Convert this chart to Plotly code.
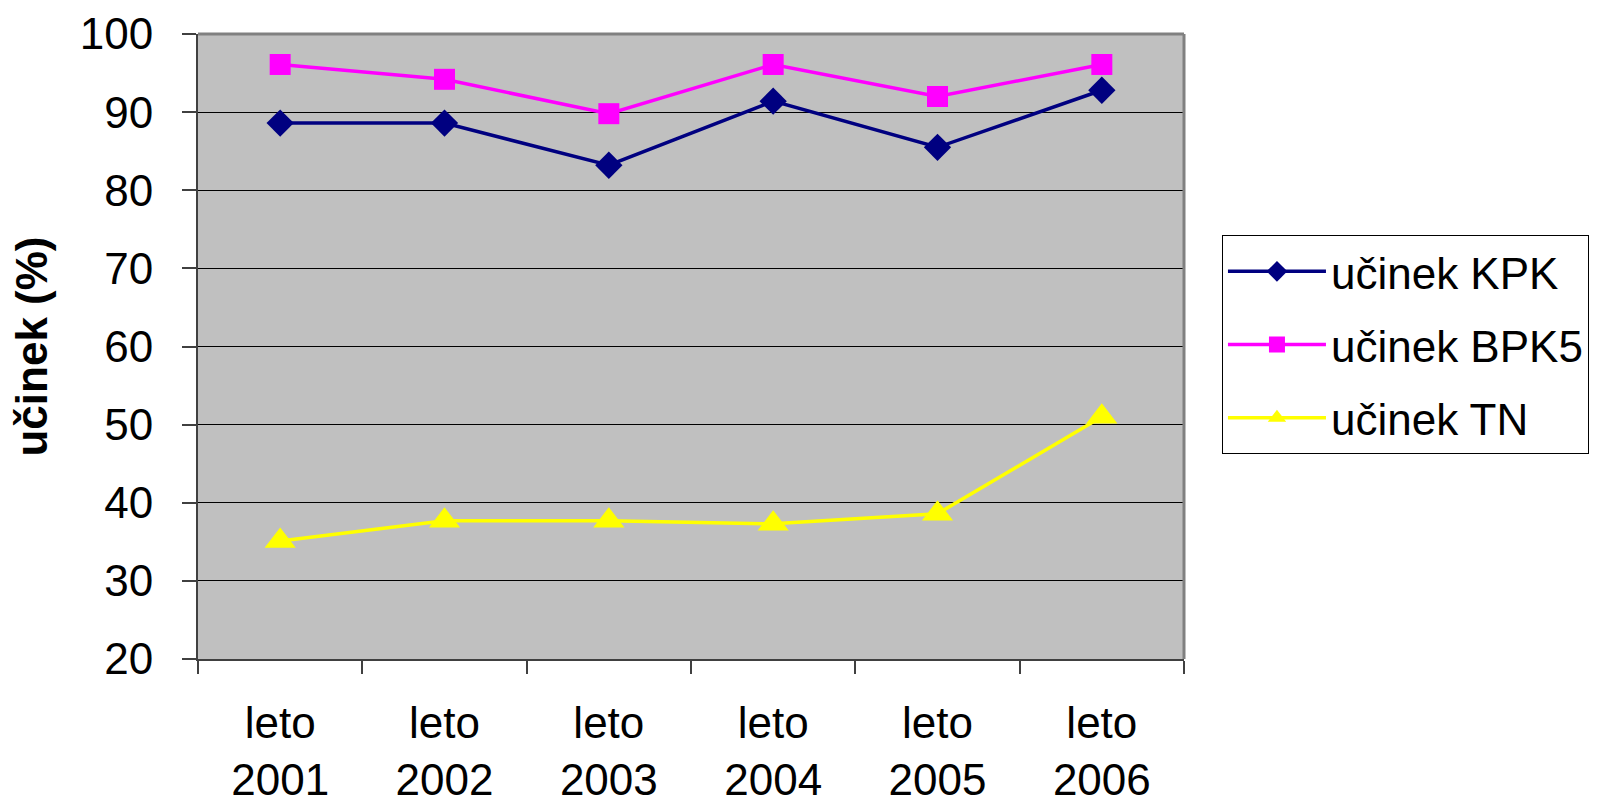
import plotly.graph_objects as go

categories = ["leto<br>2001", "leto<br>2002", "leto<br>2003", "leto<br>2004", "leto<br>2005", "leto<br>2006"]
kpk = [88.6, 88.6, 83.2, 91.4, 85.5, 92.8]
bpk5 = [96.1, 94.2, 89.8, 96.1, 92.0, 96.1]
tn = [35.1, 37.7, 37.7, 37.3, 38.6, 51.0]
names = ["učinek KPK", "učinek BPK5", "učinek TN"]
y_ticks = [20, 30, 40, 50, 60, 70, 80, 90, 100]

FONT = "Liberation Sans, Arial, sans-serif"

fig = go.Figure()
fig.add_trace(go.Scatter(x=categories, y=kpk, name=names[0], mode="lines+markers",
                         legendgroup="a",
                         line=dict(color="#000080", width=3.5),
                         marker=dict(symbol="diamond", size=21, color="#000080")))
fig.add_trace(go.Scatter(x=categories, y=bpk5, name=names[1], mode="lines+markers",
                         legendgroup="b",
                         line=dict(color="#FF00FF", width=3.5),
                         marker=dict(symbol="square", size=21, color="#FF00FF")))
fig.add_trace(go.Scatter(x=categories, y=tn, name=names[2], mode="lines+markers",
                         legendgroup="c",
                         line=dict(color="#FFFF00", width=3.5),
                         marker=dict(symbol="triangle-up", size=27, color="#FFFF00")))

fig.update_layout(
    width=1622, height=805,
    margin=dict(l=198, r=438, t=34, b=146),
    paper_bgcolor="white",
    plot_bgcolor="#C0C0C0",
    font=dict(family=FONT, size=44, color="black"),
    showlegend=True,
    legend=dict(x=1.0385, y=0.678, xanchor="left", yanchor="top",
                bordercolor="black", borderwidth=1, bgcolor="white",
                font=dict(family=FONT, size=44), itemwidth=98,
                tracegroupgap=13),
    xaxis=dict(type="category", range=[-0.5, 5.5], tickson="boundaries",
               ticks="outside", ticklen=13, tickcolor="#404040", tickwidth=1.5,
               showline=True, linecolor="#404040", linewidth=2,
               showgrid=False, ticklabelstandoff=24, automargin=False,
               tickfont=dict(family=FONT, size=44)),
    yaxis=dict(range=[20, 100], tickvals=y_ticks, ticks="outside", ticklen=14,
               tickcolor="#404040", tickwidth=1.5,
               showline=True, linecolor="#404040", linewidth=2,
               showgrid=True, gridcolor="black", gridwidth=1,
               zeroline=False, ticklabelstandoff=20, automargin=False,
               tickfont=dict(family=FONT, size=44),
               title=dict(text="<b>učinek (%)</b>", standoff=18,
                          font=dict(family=FONT, size=44))),
)

fig.add_shape(type="line", xref="paper", yref="paper", x0=0, x1=1, y0=1, y1=1,
              line=dict(color="#808080", width=3), layer="above")
fig.add_shape(type="line", xref="paper", yref="paper", x0=1, x1=1, y0=0, y1=1,
              line=dict(color="#808080", width=3), layer="above")

fig.write_html("out.html", config={"displayModeBar": False},
               post_script="document.body.style.margin='0';document.body.style.overflow='hidden';")
